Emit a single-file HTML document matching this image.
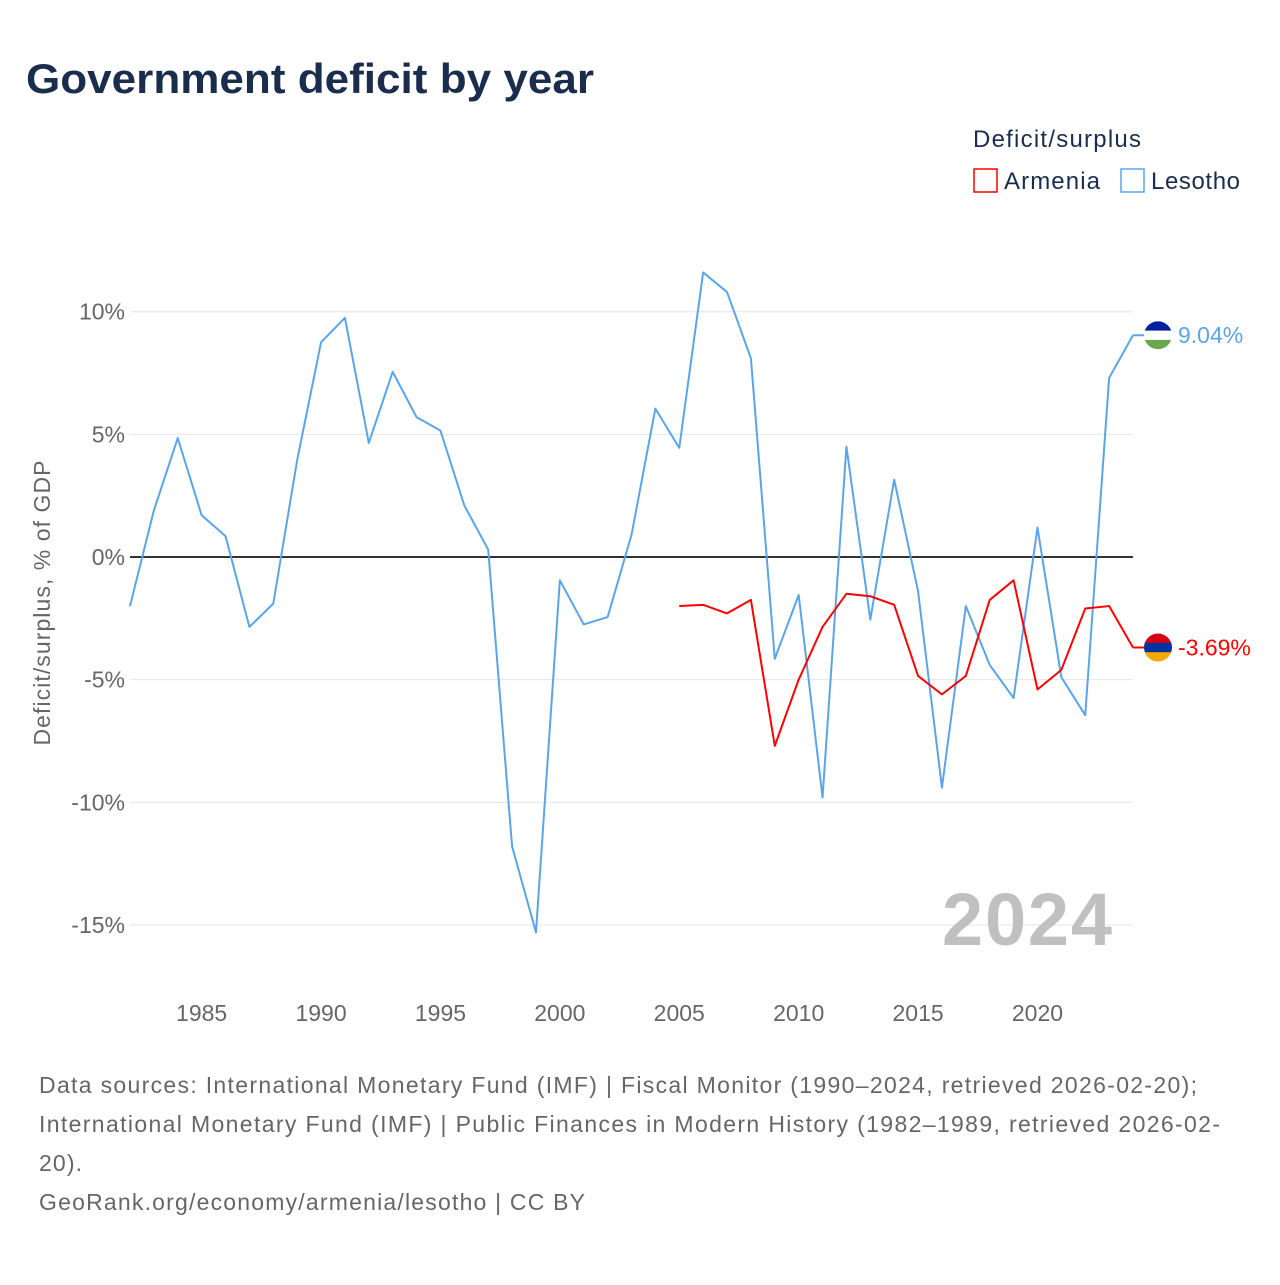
<!DOCTYPE html>
<html><head><meta charset="utf-8"><style>
body{margin:0;background:#fff;font-family:"Liberation Sans",sans-serif}
svg text{font-family:"Liberation Sans",sans-serif}
</style></head><body>
<svg id="c" width="1280" height="1280" xmlns="http://www.w3.org/2000/svg">
<text x="26" y="93" font-size="42" font-weight="bold" fill="#1b2d4d" textLength="568" lengthAdjust="spacingAndGlyphs">Government deficit by year</text>
<text x="973" y="147" font-size="24" fill="#1b2d4d" textLength="168">Deficit/surplus</text>
<g><rect x="974" y="169" width="23" height="23" fill="none" stroke="#f00" stroke-width="1.5"/><text x="1004" y="189" font-size="24" fill="#1b2d4d" textLength="96">Armenia</text></g>
<g><rect x="1121" y="169" width="23" height="23" fill="none" stroke="#5aa5ea" stroke-width="1.5"/><text x="1151" y="189" font-size="24" fill="#1b2d4d" textLength="89">Lesotho</text></g>
<text transform="translate(50,603) rotate(-90)" text-anchor="middle" font-size="23" fill="#666" textLength="285">Deficit/surplus, % of GDP</text>
<g id="grid"></g><g id="lines"></g>
<text x="1112" y="945" text-anchor="end" font-size="74" font-weight="bold" fill="#c0c0c0" textLength="170">2024</text>
<g font-size="23" fill="#666">
<text x="39" y="1093" textLength="1158">Data sources: International Monetary Fund (IMF) | Fiscal Monitor (1990–2024, retrieved 2026-02-20);</text>
<text x="39" y="1132" textLength="1181">International Monetary Fund (IMF) | Public Finances in Modern History (1982–1989, retrieved 2026-02-</text>
<text x="39" y="1171" textLength="43">20).</text>
<text x="39" y="1210" textLength="546">GeoRank.org/economy/armenia/lesotho | CC BY</text>
</g>
</svg>
<script>
const yTicks=[10,5,0,-5,-10,-15];
const xTicks=[1985,1990,1995,2000,2005,2010,2015,2020];
const lesothoYears=[1982,1983,1984,1985,1986,1987,1988,1989,1990,1991,1992,1993,1994,1995,1996,1997,1998,1999,2000,2001,2002,2003,2004,2005,2006,2007,2008,2009,2010,2011,2012,2013,2014,2015,2016,2017,2018,2019,2020,2021,2022,2023,2024];
const lesothoValues=[-2.0,1.9,4.85,1.7,0.85,-2.85,-1.9,3.95,8.75,9.75,4.65,7.55,5.7,5.15,2.1,0.3,-11.8,-15.3,-0.95,-2.75,-2.45,0.9,6.05,4.45,11.6,10.8,8.1,-4.15,-1.55,-9.8,4.5,-2.55,3.15,-1.4,-9.4,-2.0,-4.4,-5.75,1.2,-4.9,-6.45,7.3,9.04];
const armeniaYears=[2005,2006,2007,2008,2009,2010,2011,2012,2013,2014,2015,2016,2017,2018,2019,2020,2021,2022,2023,2024];
const armeniaValues=[-2.0,-1.95,-2.3,-1.75,-7.7,-5.0,-2.85,-1.5,-1.6,-1.95,-4.85,-5.6,-4.85,-1.75,-0.95,-5.4,-4.6,-2.1,-2.0,-3.69];
const X=y=>130+(y-1982)*(1133-130)/42;
const Y=v=>557-v*24.53;
const NS="http://www.w3.org/2000/svg";
const g=document.getElementById('grid'),L=document.getElementById('lines');
function mk(t,a,p){const e=document.createElementNS(NS,t);for(const k in a)e.setAttribute(k,a[k]);p.appendChild(e);return e;}
yTicks.forEach(v=>{
 const l=mk('line',{x1:130,x2:1133,y1:Y(v),y2:Y(v),stroke:v===0?'#333':'#e6e6e6','stroke-width':v===0?2:1},g);
 
 
 const t=mk('text',{x:125,y:Y(v)+8,'text-anchor':'end','font-size':23,fill:'#666'},g);t.textContent=v+'%';
 
 
});
xTicks.forEach(yr=>{
 const t=mk('text',{x:X(yr),y:1021,'text-anchor':'middle','font-size':23,fill:'#666'},g);t.textContent=yr;
 
 
});
function series(ys,vs,col,name){
 const p=mk('polyline',{points:ys.map((y,i)=>X(y)+','+Y(vs[i])).join(' '),fill:'none',stroke:col,'stroke-width':2,'stroke-linejoin':'round'},L);
 
 
 const last=vs[vs.length-1],ly=Y(last),lx=X(ys[ys.length-1]);
 mk('line',{x1:lx,x2:lx+14,y1:ly,y2:ly,stroke:col,'stroke-width':2},L);
 const t=mk('text',{x:lx+45,y:ly+8,'font-size':23,fill:col},L);t.textContent=last.toFixed(2)+'%';
 
 
 return [lx+25,ly];
}
const [lx1,ly1]=series(lesothoYears,lesothoValues,'#5aa5ea','lesotho');
const [ax,ay]=series(armeniaYears,armeniaValues,'#f00','armenia');
function flag(cx,cy,cols,name){
 const gg=mk('g',{},L);
 const id='cl'+name;const cp=mk('clipPath',{id},gg);mk('circle',{cx,cy,r:14},cp);
 cols.forEach((c,i)=>mk('rect',{x:cx-14,y:cy-14+i*28/cols.length,width:28,height:28/cols.length+0.5,fill:c,'clip-path':'url(#'+id+')'},gg));
}
flag(lx1,ly1,['#00209f','#fff','#6aa84f'],'lesotho-flag');
flag(ax,ay,['#d90012','#0033a0','#f2a800'],'armenia-flag');
</script>
</body></html>
